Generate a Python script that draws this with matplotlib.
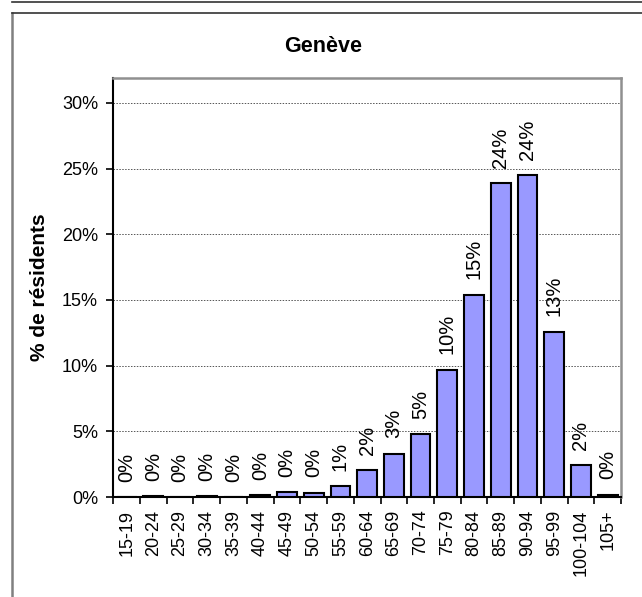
import matplotlib.pyplot as plt
import matplotlib.lines as mlines
import numpy as np
from matplotlib.ticker import FixedLocator, PercentFormatter

plt.rcParams["font.family"] = ["Liberation Sans", "DejaVu Sans"]

# Age groups and share of residents (%)
age_groups = ["15-19", "20-24", "25-29", "30-34", "35-39", "40-44", "45-49",
              "50-54", "55-59", "60-64", "65-69", "70-74", "75-79", "80-84",
              "85-89", "90-94", "95-99", "100-104", "105+"]
residents = [0.0, 0.05, 0.0, 0.05, 0.0, 0.15, 0.38, 0.33, 0.84, 2.05, 3.3,
             4.8, 9.7, 15.4, 23.9, 24.5, 12.6, 2.4, 0.17]

fig = plt.figure(figsize=(6.42, 5.97), dpi=100)

# outer chart frame
fig.add_artist(mlines.Line2D([12 / 642, 12 / 642], [0, 1 - 12.5 / 597],
                             color="#808080", lw=1.8, transform=fig.transFigure))
fig.add_artist(mlines.Line2D([12 / 642, 1], [1 - 12.5 / 597, 1 - 12.5 / 597],
                             color="#333333", lw=1.2, transform=fig.transFigure))
fig.add_artist(mlines.Line2D([12 / 642, 1], [1 - 1.5 / 597, 1 - 1.5 / 597],
                             color="#333333", lw=1.2, transform=fig.transFigure))

ax = fig.add_axes([113.3 / 642, 1 - 497 / 597, (621 - 113.3) / 642, (497 - 78) / 597])

x = np.arange(len(age_groups))
ax.bar(x, residents, width=0.74, color="#9999FF", edgecolor="black", linewidth=1.5,
       zorder=3)

for xi, v in zip(x, residents):
    ax.annotate(f"{v:.0f}%", (xi, v), xytext=(0, 11), textcoords="offset points",
                rotation=90, ha="center", va="bottom", fontsize=14.5)

ax.set_xlim(-0.5, len(age_groups) - 0.5)
ax.set_ylim(0, 31.9)

ax.set_yticks(np.arange(0, 31, 5))
ax.yaxis.set_major_formatter(PercentFormatter(decimals=0))
ax.grid(axis="y", linestyle=(0, (1.5, 1.5)), color="#555555", linewidth=0.7, zorder=0)

ax.set_xticks(x)
ax.set_xticklabels(age_groups, rotation=90)
ax.xaxis.set_minor_locator(FixedLocator(np.arange(-0.5, len(age_groups), 1)))
ax.tick_params(axis="x", which="major", length=0, pad=9, labelsize=13)
ax.tick_params(axis="x", which="minor", length=5, width=1.2, color="black")
ax.tick_params(axis="y", length=5, width=1.2, labelsize=13, pad=6)

for side in ["top", "right"]:
    ax.spines[side].set_color("#909090")
    ax.spines[side].set_linewidth(1.8)
for side in ["left", "bottom"]:
    ax.spines[side].set_color("black")
    ax.spines[side].set_linewidth(1.5)

ax.set_ylabel("% de résidents", fontsize=15, fontweight="bold", labelpad=9)
fig.text(323 / 642, 1 - 47 / 597, "Genève", ha="center", va="center",
         fontsize=15.5, fontweight="bold")

fig.savefig("out.png", dpi=100)
